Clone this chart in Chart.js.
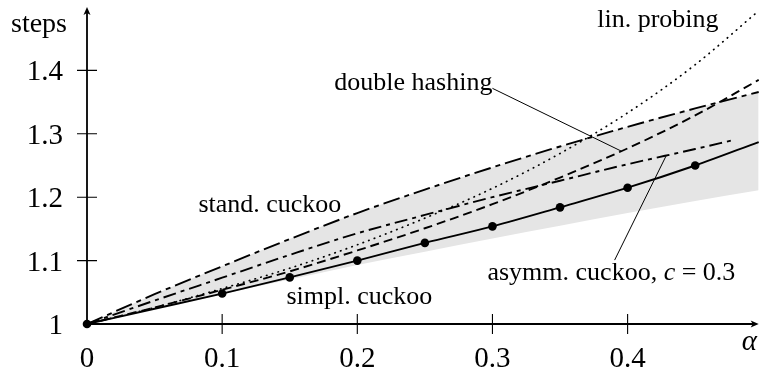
<!DOCTYPE html>
<html>
<head>
<meta charset="utf-8">
<script src="https://cdn.jsdelivr.net/npm/chart.js@4"></script>
<style>
  html, body { margin: 0; padding: 0; background: #fff; }
  #wrap { width: 763px; height: 374px; }
</style>
</head>
<body>
<div id="wrap"><canvas id="chart"></canvas></div>
<script>
// Load factor alpha (x) and expected steps of a successful search (y)
const alphas = [0, 0.05, 0.1, 0.15, 0.2, 0.25, 0.3, 0.35, 0.4, 0.45, 0.497];
const asymmAlphas = [0, 0.05, 0.1, 0.15, 0.2, 0.25, 0.3, 0.35, 0.4, 0.45, 0.478];
const measuredAlphas = [0, 0.1, 0.15, 0.2, 0.25, 0.3, 0.35, 0.4, 0.45];

const standCuckoo = [1, 1.047, 1.091, 1.134, 1.175, 1.212, 1.247, 1.28, 1.311, 1.34, 1.366];
const linProbing = [1, 1.026, 1.056, 1.088, 1.125, 1.167, 1.214, 1.269, 1.333, 1.409, 1.494];
const doubleHashing = [1, 1.026, 1.054, 1.083, 1.116, 1.151, 1.189, 1.231, 1.277, 1.329, 1.385];
const asymmCuckoo = [1, 1.037, 1.073, 1.109, 1.143, 1.172, 1.2, 1.226, 1.252, 1.276, 1.29];
const simplCuckoo = [1, 1.024, 1.048, 1.0735, 1.1, 1.128, 1.154, 1.184, 1.215, 1.25, 1.287];
const simplMeasured = [1, 1.048, 1.0735, 1.1, 1.128, 1.154, 1.184, 1.215, 1.25];
const bandLower = [1, 1.024, 1.047, 1.07, 1.093, 1.114, 1.135, 1.155, 1.175, 1.194, 1.211];

const xTicks = [0, 0.1, 0.2, 0.3, 0.4];
const xTickLabels = ["0", "0.1", "0.2", "0.3", "0.4"];
const yTicks = [1, 1.1, 1.2, 1.3, 1.4];
const yTickLabels = ["1", "1.1", "1.2", "1.3", "1.4"];

// label texts with their anchor (data units) and the pointer lines
const labels = [
  { text: "lin. probing", x: 0.4224, y: 1.4787, align: "center" },
  { text: "double hashing", x: 0.3, y: 1.3795, align: "right" },
  { text: "stand. cuckoo", x: 0.1353, y: 1.1874, align: "center" },
  { text: "simpl. cuckoo", x: 0.2015, y: 1.0425, align: "center" },
];
const asymmLabel = { x: 0.2963, y: 1.0803 };
const doublePointerX = [0.3, 0.3956];
const doublePointerY = [1.3717, 1.2724];
const asymmPointerX = [0.3904, 0.4287];
const asymmPointerY = [1.1008, 1.2661];

const toPoints = (xs, ys) => xs.map((x, i) => ({ x: x, y: ys[i] }));

const SERIF = "'Liberation Serif', 'DejaVu Serif', serif";

function curve(data, dash, extra) {
  return Object.assign(
    {
      data: data,
      borderColor: "#000",
      borderWidth: 1.9,
      borderDash: dash,
      pointRadius: 0,
      fill: false,
      cubicInterpolationMode: "monotone",
      clip: false,
    },
    extra || {}
  );
}

const axesPlugin = {
  id: "axes",
  afterDraw(chart) {
    const ctx = chart.ctx;
    const x = chart.scales.x;
    const y = chart.scales.y;
    const x0 = x.getPixelForValue(0);
    const y0 = y.getPixelForValue(1);
    const xEnd = x.getPixelForValue(x.max);
    const yEnd = y.getPixelForValue(y.max);

    ctx.save();
    ctx.strokeStyle = "#000";
    ctx.fillStyle = "#000";
    ctx.lineWidth = 1.8;
    ctx.setLineDash([]);

    ctx.beginPath();
    ctx.moveTo(x0, y0);
    ctx.lineTo(xEnd - 4, y0);
    ctx.moveTo(x0, y0);
    ctx.lineTo(x0, yEnd + 4);
    ctx.stroke();

    // arrow heads
    ctx.beginPath();
    ctx.moveTo(xEnd, y0);
    ctx.lineTo(xEnd - 8, y0 - 3.5);
    ctx.lineTo(xEnd - 6, y0);
    ctx.lineTo(xEnd - 8, y0 + 3.5);
    ctx.closePath();
    ctx.fill();
    ctx.beginPath();
    ctx.moveTo(x0, yEnd);
    ctx.lineTo(x0 - 3.5, yEnd + 8);
    ctx.lineTo(x0, yEnd + 6);
    ctx.lineTo(x0 + 3.5, yEnd + 8);
    ctx.closePath();
    ctx.fill();

    // ticks crossing the axes
    ctx.lineWidth = 1.1;
    ctx.beginPath();
    xTicks.forEach((v) => {
      if (v === 0) return;
      const px = x.getPixelForValue(v);
      ctx.moveTo(px, y0 - 10);
      ctx.lineTo(px, y0 + 10);
    });
    yTicks.forEach((v) => {
      if (v === 1) return;
      const py = y.getPixelForValue(v);
      ctx.moveTo(x0 - 10, py);
      ctx.lineTo(x0 + 10, py);
    });
    ctx.stroke();

    // tick labels
    ctx.font = "29px " + SERIF;
    ctx.textBaseline = "alphabetic";
    ctx.textAlign = "center";
    xTicks.forEach((v, i) => {
      ctx.fillText(xTickLabels[i], x.getPixelForValue(v), y0 + 43);
    });
    ctx.textAlign = "right";
    yTicks.forEach((v, i) => {
      ctx.fillText(yTickLabels[i], x0 - 24, y.getPixelForValue(v) + 10);
    });

    // axis titles
    ctx.font = "28px " + SERIF;
    ctx.textAlign = "left";
    ctx.fillText("steps", 11, 32);
    ctx.font = "italic 29px " + SERIF;
    ctx.fillText("\u03b1", xEnd - 17, y0 + 26);

    // curve labels
    ctx.font = "26px " + SERIF;
    ctx.textBaseline = "middle";
    labels.forEach((l) => {
      ctx.textAlign = l.align;
      ctx.fillText(l.text, x.getPixelForValue(l.x), y.getPixelForValue(l.y));
    });

    // asymm. cuckoo, c = 0.3 (c in italics)
    ctx.textAlign = "left";
    let lx = x.getPixelForValue(asymmLabel.x);
    const ly = y.getPixelForValue(asymmLabel.y);
    const parts = [
      ["asymm. cuckoo, ", "26px " + SERIF],
      ["c", "italic 26px " + SERIF],
      [" = 0.3", "26px " + SERIF],
    ];
    parts.forEach((p) => {
      ctx.font = p[1];
      ctx.fillText(p[0], lx, ly);
      lx += ctx.measureText(p[0]).width;
    });
    ctx.restore();
  },
};

new Chart(document.getElementById("chart"), {
  type: "line",
  data: {
    datasets: [
      {
        data: toPoints(alphas, bandLower),
        borderWidth: 0,
        pointRadius: 0,
        fill: false,
        cubicInterpolationMode: "monotone",
      },
      {
        data: toPoints(alphas, standCuckoo),
        borderWidth: 0,
        pointRadius: 0,
        backgroundColor: "rgb(229,229,229)",
        fill: "-1",
        cubicInterpolationMode: "monotone",
      },
      curve(toPoints(alphas, standCuckoo), [17, 5, 5, 5]),
      curve(toPoints(alphas, linProbing), [0.5, 5.5], { borderCapStyle: "round", borderWidth: 1.7 }),
      curve(toPoints(alphas, doubleHashing), [9, 5]),
      curve(toPoints(asymmAlphas, asymmCuckoo), [13, 5, 4, 5]),
      curve(toPoints(alphas, simplCuckoo), []),
      {
        data: toPoints(measuredAlphas, simplMeasured),
        showLine: false,
        pointRadius: 4.3,
        pointBackgroundColor: "#000",
        pointBorderWidth: 0,
        clip: false,
      },
      curve(toPoints(doublePointerX, doublePointerY), [], { borderWidth: 1, cubicInterpolationMode: "default" }),
      curve(toPoints(asymmPointerX, asymmPointerY), [], { borderWidth: 1, cubicInterpolationMode: "default" }),
    ],
  },
  options: {
    responsive: true,
    maintainAspectRatio: false,
    animation: false,
    layout: { padding: { left: 87, right: 0, top: 7, bottom: 50 } },
    scales: {
      x: { type: "linear", min: 0, max: 0.497, display: false },
      y: { type: "linear", min: 1, max: 1.5, display: false },
    },
    plugins: {
      legend: { display: false },
      tooltip: { enabled: false },
      filler: { drawTime: "beforeDatasetsDraw" },
    },
  },
  plugins: [axesPlugin],
});
</script>
</body>
</html>
